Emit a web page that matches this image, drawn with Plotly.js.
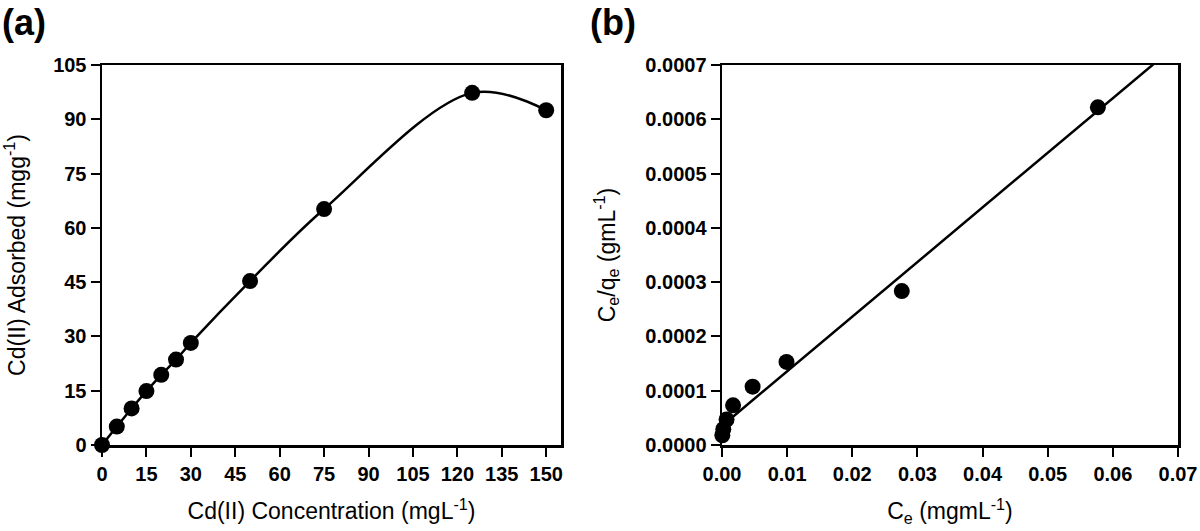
<!DOCTYPE html>
<html>
<head>
<meta charset="utf-8">
<script src="https://cdn.plot.ly/plotly-3.0.1.min.js"></script>
<style>html,body{margin:0;padding:0;background:#fff;}#chart{width:1200px;height:531px;}</style>
</head>
<body>
<div id="chart"></div>
<script>
// Panel (a): adsorption isotherm
const concA = [0, 5, 10, 15, 20, 25, 30, 50, 75, 125, 150];
const adsorbedA = [0, 5.1, 10.1, 14.9, 19.4, 23.6, 28.2, 45.3, 65.2, 97.3, 92.5];
const ticksA_x = [0, 15, 30, 45, 60, 75, 90, 105, 120, 135, 150];
const ticksA_y = [0, 15, 30, 45, 60, 75, 90, 105];

// Panel (b): Langmuir linear plot
const ceB = [0.00005, 0.0002, 0.0007, 0.0017, 0.0047, 0.0099, 0.0276, 0.0577];
const ceqeB = [0.000018, 0.000029, 0.000047, 0.000073, 0.0001075, 0.000153, 0.0002835, 0.000622];
const fitSlope = 0.01006;
const fitIntercept = 0.0000352;
const fitXRange = [0.0015, 0.07];
const ticksB_x = [0, 0.01, 0.02, 0.03, 0.04, 0.05, 0.06, 0.07];
const ticksB_y = [0, 0.0001, 0.0002, 0.0003, 0.0004, 0.0005, 0.0006, 0.0007];

const fitX = fitXRange;
const fitY = fitX.map(x => fitIntercept + fitSlope * x);

const FONT = 'Liberation Sans, Arial, sans-serif';
const tickFont = {family: FONT, size: 20, color: '#000', weight: 'bold'};
const titleFont = {family: FONT, size: 23, color: '#000'};

const axisCommon = {
  showgrid: false, zeroline: false, showline: true, linecolor: '#000', linewidth: 2.5,
  mirror: true, ticks: 'outside', ticklen: 9, tickwidth: 2, tickcolor: '#000',
  tickfont: tickFont, fixedrange: true
};

const traces = [
  {x: concA, y: adsorbedA, xaxis: 'x', yaxis: 'y', mode: 'lines',
   line: {color: '#000', width: 2.5, shape: 'spline', smoothing: 1.0}, hoverinfo: 'skip'},
  {x: concA, y: adsorbedA, xaxis: 'x', yaxis: 'y', mode: 'markers', cliponaxis: false,
   marker: {color: '#000', size: 16}},
  {x: fitX, y: fitY, xaxis: 'x2', yaxis: 'y2', mode: 'lines',
   line: {color: '#000', width: 2.5}, hoverinfo: 'skip'},
  {x: ceB, y: ceqeB, xaxis: 'x2', yaxis: 'y2', mode: 'markers', cliponaxis: false,
   marker: {color: '#000', size: 16}}
];

const layout = {
  width: 1200, height: 531,
  margin: {l: 0, r: 0, t: 0, b: 0},
  paper_bgcolor: '#fff', plot_bgcolor: '#fff',
  showlegend: false,
  xaxis: Object.assign({}, axisCommon, {
    domain: [102/1200, 561/1200], range: [0, 155], tickvals: ticksA_x,
    title: {text: 'Cd(II) Concentration (mgL<sup>-1</sup>)', font: titleFont, standoff: 20}
  }),
  yaxis: Object.assign({}, axisCommon, {
    domain: [86/531, 466/531], range: [0, 105], tickvals: ticksA_y, anchor: 'x',
    title: {text: 'Cd(II) Adsorbed (mgg<sup>-1</sup>)', font: titleFont, standoff: 22}
  }),
  xaxis2: Object.assign({}, axisCommon, {
    domain: [722/1200, 1178/1200], range: [0, 0.07], tickvals: ticksB_x, tickformat: '.2f', anchor: 'y2',
    title: {text: 'C<sub>e</sub> (mgmL<sup>-1</sup>)', font: titleFont, standoff: 20}
  }),
  yaxis2: Object.assign({}, axisCommon, {
    domain: [86/531, 466/531], range: [0, 0.0007], tickvals: ticksB_y, tickformat: '.4f', anchor: 'x2',
    title: {text: 'C<sub>e</sub>/q<sub>e</sub> (gmL<sup>-1</sup>)', font: titleFont, standoff: 24}
  }),
  annotations: [
    {text: '(a)', xref: 'paper', yref: 'paper', x: 0, y: 1, xanchor: 'left', yanchor: 'top',
     showarrow: false, font: {family: FONT, size: 36, color: '#000', weight: 'bold'}},
    {text: '(b)', xref: 'paper', yref: 'paper', x: 588/1200, y: 1, xanchor: 'left', yanchor: 'top',
     showarrow: false, font: {family: FONT, size: 36, color: '#000', weight: 'bold'}}
  ]
};

Plotly.newPlot('chart', traces, layout, {displayModeBar: false, staticPlot: true});
</script>
</body>
</html>
